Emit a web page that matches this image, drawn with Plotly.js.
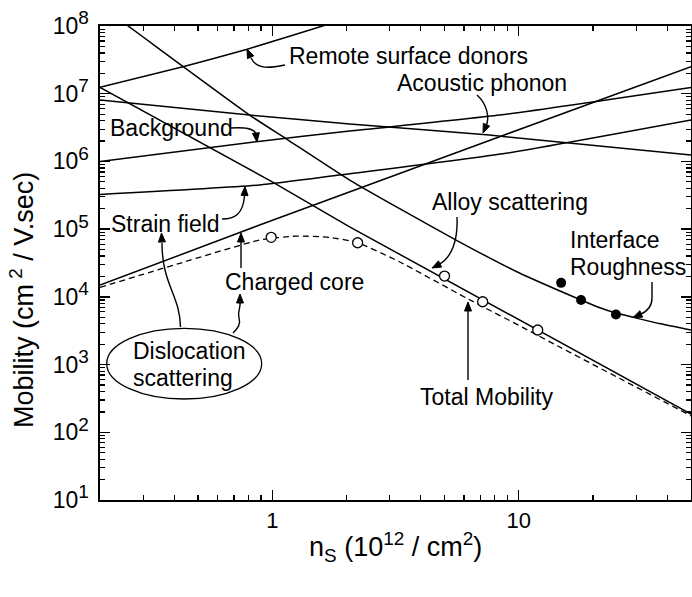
<!DOCTYPE html>
<html>
<head>
<meta charset="utf-8">
<script src="https://cdn.plot.ly/plotly-3.0.1.min.js"></script>
<style>html,body{margin:0;padding:0;background:#fff;}#chart{width:692px;height:597px;}</style>
</head>
<body>
<div id="chart"></div>
<script>
// ---- data (n_s in 1e12 cm^-2, mobility in cm^2/V.s) ----
const ns_remote = [0.2, 0.434, 0.785, 1.6, 3.2];
const mu_remote = [1.24e7, 2.5e7, 4.5e7, 1.0e8, 2.3e8];

const ns_rough = [0.2, 0.26, 0.809, 1.143, 2.06, 5.57, 10.07, 17.9, 21.2, 24.8, 28.9, 37.2, 50];
const mu_rough = [2.0e8, 1.0e8, 4.84e6, 2.14e6, 5.31e5, 6.9e4, 2.25e4, 8.97e3, 6.95e3, 5.77e3, 5.03e3, 4.03e3, 3.24e3];

const ns_alloy = [0.2, 1.0, 2.06, 11.94, 50];
const mu_alloy = [1.24e7, 5.0e5, 1.08e5, 3.24e3, 1.86e2];

const ns_total = [0.2, 0.421, 0.888, 1.25, 1.706, 2.22, 3.28, 6.12, 11.4, 14.6, 25.6, 50];
const mu_total = [1.38e4, 3.13e4, 6.9e4, 7.9e4, 7.57e4, 6.3e4, 3.3e4, 9.64e3, 2.96e3, 1.83e3, 6.28e2, 1.75e2];

const ns_core = [0.2, 0.888, 8.36, 50];
const mu_core = [1.49e4, 1.15e5, 2.32e6, 2.5e7];

const ns_strain = [0.2, 0.888, 1.875, 8.89, 50];
const mu_strain = [3.24e5, 4.48e5, 6.3e5, 1.32e6, 4.09e6];

const ns_bg = [0.2, 0.861, 2.06, 8.36, 50];
const mu_bg = [1.0e6, 1.95e6, 2.81e6, 4.84e6, 1.24e7];

const ns_ac = [0.2, 0.809, 2.06, 7.6, 50];
const mu_ac = [8.07e6, 4.84e6, 3.57e6, 2.45e6, 1.24e6];

const ns_open = [0.99, 2.22, 5.0, 7.14, 11.94];
const mu_open = [7.57e4, 6.3e4, 2.03e4, 8.47e3, 3.24e3];

const ns_filled = [14.86, 17.9, 24.8];
const mu_filled = [1.61e4, 8.97e3, 5.5e3];

const yTickVals = [1e1, 1e2, 1e3, 1e4, 1e5, 1e6, 1e7, 1e8];
const yTickExp = ['1','2','3','4','5','6','7','8'];
const xTickVals = [1, 10];
const xTickText = ['1', '10'];

// ---- layout helpers (pixel -> paper) ----
const L = 100, T = 26, W = 591, H = 474;
const FONT = 'Liberation Sans, Arial, Helvetica, sans-serif';
function pxX(x){ return (x - L) / W; }
function pxY(y){ return (T + H - y) / H; }
function pathP(str){
  const tok = str.trim().split(/\s+/);
  let out = [], isX = true;
  for (const t of tok){
    if (/^[A-Za-z]$/.test(t)) { out.push(t); isX = true; continue; }
    const v = parseFloat(t);
    out.push(isX ? pxX(v).toFixed(5) : pxY(v).toFixed(5));
    isX = !isX;
  }
  let s = '', i = 0;
  while (i < out.length){
    if (/^[A-Za-z]$/.test(out[i])) { s += out[i] + ' '; i++; }
    else { s += out[i] + ',' + out[i+1] + ' '; i += 2; }
  }
  return s.trim();
}
function head(tx, ty, fx, fy){
  const dx = tx - fx, dy = ty - fy, d = Math.hypot(dx, dy);
  const ux = dx / d, uy = dy / d, nx = -uy, ny = ux;
  const len = 9, hw = 3.5;
  const bx = tx - ux * len, by = ty - uy * len;
  return 'M ' + tx + ' ' + ty + ' L ' + (bx + nx*hw) + ' ' + (by + ny*hw) + ' L ' + (bx - nx*hw) + ' ' + (by - ny*hw) + ' Z';
}
const arrowLines = [
  'M 285 65 C 270 68 257 70 251 58',
  'M 477 95 C 487 104 490 118 486 126',
  'M 230 128 C 245 127 254 128 256 134',
  'M 222 219 C 235 219 243 214 244.5 196',
  'M 241 268 L 241 242',
  'M 180.5 327 C 180 295 162 285 162 243',
  'M 233 333 C 238 328 241 324 239 318 C 237 312 241 308 240 302',
  'M 457 217 C 458 240 452 258 438 265',
  'M 652 282 L 652 298 C 652 308 646 312 640 314.5',
  'M 468 380 L 468 311'
];
const arrowHeads = [
  [247, 49, 251, 58],
  [483, 133, 486, 126],
  [257, 142, 256, 134],
  [245, 186.5, 244.5, 196],
  [241, 233, 241, 242],
  [161.5, 233, 162, 243],
  [240, 294, 240, 302],
  [432, 268, 438, 265],
  [633, 317.5, 640, 314.5],
  [468, 302, 468, 311]
];
const shapes = [];
arrowLines.forEach(p => shapes.push({type:'path', xref:'paper', yref:'paper', path: pathP(p), line:{color:'black', width:1.4}}));
arrowHeads.forEach(h => shapes.push({type:'path', xref:'paper', yref:'paper', path: pathP(head(h[0],h[1],h[2],h[3])), fillcolor:'black', line:{color:'black', width:1}}));
shapes.push({type:'circle', xref:'paper', yref:'paper', x0:pxX(106.7), x1:pxX(261.7), y0:pxY(399), y1:pxY(328.3), line:{color:'black', width:1.3}, fillcolor:'rgba(0,0,0,0)'});

const labels = [
  ['Remote surface donors', 287, 56],
  ['Acoustic phonon', 395, 83],
  ['Background', 108, 128],
  ['Strain field', 109, 224],
  ['Alloy scattering', 430, 202],
  ['Interface', 568, 240],
  ['Roughness', 568, 267],
  ['Charged core', 223, 282],
  ['Dislocation', 130.5, 351],
  ['scattering', 130.5, 378],
  ['Total Mobility', 418, 397]
];
const annotations = labels.map(l => ({
  text: l[0], xref:'paper', yref:'paper', x: pxX(l[1]), y: pxY(l[2]),
  xanchor:'left', yanchor:'middle', showarrow:false,
  font:{family:FONT, size:23, color:'black'}
}));
annotations.push({
  text:'Mobility (cm<sup> 2</sup> / V.sec)', xref:'paper', yref:'paper',
  x: pxX(22), y: pxY(300), xanchor:'center', yanchor:'middle', textangle:-90, showarrow:false,
  font:{family:FONT, size:27, color:'black'}
});
annotations.push({
  text:'n<sub>S</sub> (10<sup>12</sup> / cm<sup>2</sup>)', xref:'paper', yref:'paper',
  x: pxX(395), y: pxY(547), xanchor:'center', yanchor:'middle', showarrow:false,
  font:{family:FONT, size:27, color:'black'}
});

function minorVals(d0, d1){ const v=[]; for(let d=d0; d<=d1; d++){ for(let k=2;k<=9;k++) v.push(k*Math.pow(10,d)); } return v; }

const curveStyle = {color:'black', width:1.5, shape:'spline', smoothing:0.5};
const straightStyle = {color:'black', width:1.5, shape:'linear'};
const traces = [
  {x: ns_remote, y: mu_remote, mode:'lines', line: curveStyle, name:'Remote surface donors'},
  {x: ns_rough, y: mu_rough, mode:'lines', line: curveStyle, name:'Interface roughness'},
  {x: ns_alloy, y: mu_alloy, mode:'lines', line: straightStyle, name:'Alloy scattering'},
  {x: ns_core, y: mu_core, mode:'lines', line: straightStyle, name:'Charged core'},
  {x: ns_strain, y: mu_strain, mode:'lines', line: curveStyle, name:'Strain field'},
  {x: ns_bg, y: mu_bg, mode:'lines', line: curveStyle, name:'Background'},
  {x: ns_ac, y: mu_ac, mode:'lines', line: curveStyle, name:'Acoustic phonon'},
  {x: ns_total, y: mu_total, mode:'lines', line: {color:'black', width:1.3, dash:'6px,4px', shape:'spline', smoothing:0.5}, name:'Total mobility'},
  {x: ns_open, y: mu_open, mode:'markers', marker:{symbol:'circle', size:10, color:'white', line:{color:'black', width:1.3}}, name:'open'},
  {x: ns_filled, y: mu_filled, mode:'markers', marker:{symbol:'circle', size:10, color:'black'}, name:'filled'}
];

const layout = {
  width: 692, height: 597,
  margin: {l:100, r:1, t:26, b:97},
  paper_bgcolor:'white', plot_bgcolor:'white',
  showlegend:false,
  font:{family:FONT, color:'black'},
  xaxis: {
    type:'log', range:[Math.log10(0.2), Math.log10(50)],
    tickmode:'array', tickvals:xTickVals, ticktext:xTickText,
    ticks:'inside', ticklen:10, tickwidth:1.3, tickcolor:'black',
    showline:true, linewidth:1.6, linecolor:'black', mirror:'ticks',
    showgrid:false, zeroline:false,
    tickfont:{family:FONT, size:22, color:'black'},
    minor:{tickmode:'array', tickvals:minorVals(-1,1), ticks:'inside', ticklen:5, tickwidth:1.2, tickcolor:'black', showgrid:false},
    automargin:false
  },
  yaxis: {
    type:'log', range:[1, 8],
    tickmode:'array', tickvals:yTickVals,
    ticktext: yTickExp.map(e => '10<sup><span style="font-size:19px">' + e + '</span></sup>'),
    ticks:'inside', ticklen:10, tickwidth:1.3, tickcolor:'black',
    showline:true, linewidth:1.6, linecolor:'black', mirror:'ticks',
    showgrid:false, zeroline:false,
    tickfont:{family:FONT, size:23, color:'black'},
    ticklabelstandoff: 5,
    minor:{tickmode:'array', tickvals:minorVals(1,7), ticks:'inside', ticklen:5, tickwidth:1.2, tickcolor:'black', showgrid:false},
    automargin:false
  },
  shapes: shapes,
  annotations: annotations
};

Plotly.newPlot('chart', traces, layout, {staticPlot:true, displayModeBar:false});
</script>
</body>
</html>
